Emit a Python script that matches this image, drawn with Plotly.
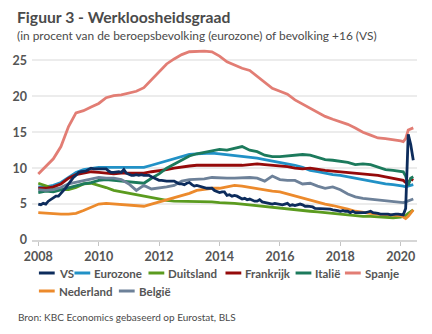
import pandas as pd
import plotly.graph_objects as go

# ---------------- data ----------------
us_dates = pd.date_range("2008-01-01", "2020-06-01", freq="MS")
vs = [5.0, 4.9, 5.1, 5.0, 5.4, 5.6, 5.8, 6.1, 6.1, 6.5, 6.8, 7.3,
      7.8, 8.3, 8.7, 9.0, 9.4, 9.5, 9.5, 9.6, 9.8, 10.0, 9.9, 9.9,
      9.8, 9.8, 9.9, 9.9, 9.6, 9.4, 9.4, 9.5, 9.5, 9.4, 9.8, 9.3,
      9.1, 9.0, 9.0, 9.1, 9.0, 9.1, 9.0, 9.0, 9.0, 8.8, 8.6, 8.5,
      8.3, 8.3, 8.2, 8.2, 8.2, 8.2, 8.2, 8.0, 7.8, 7.8, 7.7, 7.9,
      8.0, 7.7, 7.5, 7.6, 7.5, 7.5, 7.3, 7.2, 7.2, 7.2, 6.9, 6.7,
      6.6, 6.7, 6.7, 6.2, 6.3, 6.1, 6.2, 6.1, 5.9, 5.7, 5.8, 5.6,
      5.7, 5.5, 5.4, 5.4, 5.6, 5.3, 5.2, 5.1, 5.0, 5.0, 5.1, 5.0,
      4.9, 4.9, 5.0, 5.1, 4.8, 4.9, 4.8, 4.9, 5.0, 4.9, 4.7, 4.7,
      4.7, 4.6, 4.4, 4.4, 4.4, 4.3, 4.3, 4.4, 4.3, 4.2, 4.2, 4.1,
      4.0, 4.1, 4.0, 4.0, 3.8, 4.0, 3.8, 3.8, 3.7, 3.8, 3.8, 3.9,
      4.0, 3.8, 3.8, 3.7, 3.6, 3.6, 3.7, 3.6, 3.5, 3.6, 3.6, 3.6,
      3.5, 3.5, 4.4, 14.7, 13.3, 11.1]

# European series: quarterly (Jan/Apr/Jul/Oct) 2008-2019, monthly Jan-Jun 2020
eu_dates = ([f"{y}-{m:02d}-01" for y in range(2008, 2020) for m in (1, 4, 7, 10)]
            + [f"2020-{m:02d}-01" for m in range(1, 7)])

eurozone = [7.4, 7.4, 7.6, 8.0, 8.7, 9.4, 9.8, 10.0, 10.1, 10.1, 10.1, 10.0,
            10.0, 10.0, 10.1, 10.4, 10.7, 11.0, 11.3, 11.6, 11.9, 12.0, 12.1, 12.1,
            12.0, 11.9, 11.8, 11.7, 11.6, 11.4, 11.2, 11.0, 10.8, 10.6, 10.4, 10.1,
            9.7, 9.5, 9.3, 9.1, 9.0, 8.8, 8.6, 8.4, 8.2, 8.0, 7.8, 7.7,
            7.6, 7.5, 7.4, 7.5, 7.6, 7.7]
duitsland = [7.9, 7.5, 7.2, 7.0, 7.0, 7.3, 7.8, 7.9, 7.6, 7.3, 6.9, 6.7,
             6.5, 6.2, 6.0, 5.8, 5.6, 5.5, 5.4, 5.4, 5.4, 5.3, 5.3, 5.3,
             5.2, 5.1, 5.1, 5.0, 4.9, 4.8, 4.7, 4.6, 4.5, 4.4, 4.2, 4.1,
             4.0, 3.9, 3.8, 3.6, 3.6, 3.5, 3.4, 3.3, 3.3, 3.2, 3.1, 3.1,
             3.2, 3.3, 3.4, 3.7, 3.9, 4.2]
frankrijk = [7.2, 7.2, 7.4, 7.8, 8.6, 9.1, 9.3, 9.5, 9.4, 9.3, 9.2, 9.3,
             9.3, 9.2, 9.3, 9.5, 9.6, 9.8, 10.0, 10.2, 10.3, 10.4, 10.4, 10.3,
             10.3, 10.3, 10.4, 10.4, 10.5, 10.6, 10.5, 10.4, 10.4, 10.2, 10.0, 9.9,
             10.0, 9.8, 9.7, 9.6, 9.5, 9.4, 9.3, 9.3, 9.2, 9.0, 8.8, 8.6,
             8.4, 8.3, 8.0, 7.9, 8.5, 8.3]
italie = [6.6, 6.8, 6.7, 7.0, 7.3, 7.5, 7.8, 8.0, 8.3, 8.4, 8.3, 8.2,
          8.1, 8.0, 7.9, 8.6, 9.2, 10.0, 10.6, 11.1, 11.7, 12.0, 12.2, 12.5,
          12.6, 12.5, 12.7, 13.0, 12.5, 12.3, 11.8, 11.6, 11.6, 11.7, 11.8, 11.9,
          11.8, 11.5, 11.2, 11.1, 11.0, 10.8, 10.5, 10.6, 10.5, 10.1, 9.8, 9.7,
          9.6, 9.5, 8.9, 7.6, 8.6, 8.8]
spanje = [9.2, 10.2, 11.3, 13.0, 15.8, 17.7, 18.0, 18.5, 19.0, 19.8, 20.1, 20.2,
          20.4, 20.7, 21.2, 22.3, 23.3, 24.5, 25.2, 25.8, 26.2, 26.3, 26.3, 26.2,
          25.6, 24.8, 24.3, 23.9, 23.6, 22.8, 21.9, 21.1, 20.7, 20.3, 19.5, 18.9,
          18.3, 17.7, 17.2, 16.8, 16.5, 16.1, 15.6, 15.0, 14.6, 14.2, 14.1, 14.0,
          13.8, 13.7, 14.1, 15.3, 15.5, 15.6]
nederland = [3.8, 3.7, 3.7, 3.6, 3.6, 3.7, 4.1, 4.6, 5.0, 5.1, 5.0, 5.0,
             4.9, 4.8, 4.7, 5.0, 5.3, 5.6, 6.0, 6.2, 6.5, 6.9, 7.1, 7.2,
             7.2, 7.4, 7.6, 7.5, 7.3, 7.1, 6.9, 6.8, 6.7, 6.4, 6.1, 5.9,
             5.6, 5.3, 5.0, 4.8, 4.6, 4.3, 4.0, 3.8, 3.7, 3.6, 3.5, 3.5,
             3.4, 3.2, 3.0, 3.3, 3.8, 4.2]
belgie = [7.0, 6.9, 7.0, 7.3, 7.8, 8.0, 8.2, 8.5, 8.7, 8.6, 8.6, 8.4,
          7.8, 6.9, 7.6, 7.1, 7.2, 7.4, 7.6, 8.2, 8.4, 8.4, 8.5, 8.7,
          8.6, 8.6, 8.6, 8.7, 8.7, 8.6, 8.2, 8.9, 8.4, 8.3, 8.3, 7.8,
          7.9, 7.5, 7.2, 7.4, 7.0, 6.4, 6.0, 5.8, 5.7, 5.6, 5.5, 5.4,
          5.3, 5.2, 5.3, 5.4, 5.6, 5.7]

year_ticks = [2008, 2010, 2012, 2014, 2016, 2018, 2020]
y_ticks = [0, 5, 10, 15, 20, 25]

series = [  # name, dates, values, colour
    ("VS", us_dates, vs, "#0d2c5c"),
    ("Eurozone", eu_dates, eurozone, "#2191c6"),
    ("Duitsland", eu_dates, duitsland, "#5b9b1f"),
    ("Frankrijk", eu_dates, frankrijk, "#950a0a"),
    ("Italië", eu_dates, italie, "#1c7a5c"),
    ("Spanje", eu_dates, spanje, "#e27d74"),
    ("Nederland", eu_dates, nederland, "#ec8a2c"),
    ("België", eu_dates, belgie, "#6d8199"),
]

FONT = "Lato"
TXT = "#4a4a4a"

fig = go.Figure()
# draw European series first, VS last (on top)
for name, d, v, c in series[1:] + series[:1]:
    fig.add_trace(go.Scatter(x=d, y=v, mode="lines", name=name,
                             line=dict(color=c, width=2.8), showlegend=False))

# ---------------- layout ----------------
W, H = 432, 334
ml, mr, mt, mb = 27, 15, 46, 94
pw, ph = W - ml - mr, H - mt - mb

def px(xp):
    return (xp - ml) / pw

def py(yp):
    return (H - mb - yp) / ph

fig.update_layout(
    width=W, height=H,
    margin=dict(l=ml, r=mr, t=mt, b=mb),
    paper_bgcolor="white", plot_bgcolor="white",
    font=dict(family=FONT, color=TXT),
    xaxis=dict(type="date", range=["2007-10-17", "2020-07-16"],
               tickvals=[f"{y}-01-01" for y in year_ticks],
               ticktext=[f"<b>{y}</b>" for y in year_ticks],
               tickfont=dict(size=12.5, family=FONT, color="#555555"),
               showgrid=False, showline=True, linecolor="#d6d6d6", linewidth=1.5,
               ticks="outside", ticklen=4, tickcolor="#c4c4c4", tickwidth=1.2,
               zeroline=False),
    yaxis=dict(range=[0, 27], tickvals=y_ticks,
               ticktext=[f"<b>{v}</b>" for v in y_ticks],
               tickfont=dict(size=12.5, family=FONT, color="#555555"),
               showgrid=True, gridcolor="#ececec", gridwidth=1.6,
               zeroline=False, showline=False, ticklabelstandoff=4),
)

ann = [
    dict(text="<b>Figuur 3 - Werkloosheidsgraad</b>", x=10, y=17, size=15.7, color="#4a4a4a"),
    dict(text="(in procent van de beroepsbevolking (eurozone) of bevolking +16 (VS)", x=10, y=35, size=11.9, color="#4a4a4a"),
    dict(text="Bron: KBC Economics gebaseerd op Eurostat, BLS", x=11, y=317, size=10, color="#4a4a4a"),
]
for a in ann:
    fig.add_annotation(text=a["text"], x=px(a["x"]), y=py(a["y"]), xref="paper", yref="paper",
                       xanchor="left", yanchor="middle", showarrow=False,
                       font=dict(size=a["size"], color=a["color"], family=FONT))

# manual legend
legend_pos = {"VS": (34, 273), "Eurozone": (70, 273), "Duitsland": (145, 273),
              "Frankrijk": (223, 273), "Italië": (294, 273), "Spanje": (344, 273),
              "Nederland": (34, 291), "België": (115, 291)}
for name, d, v, c in series:
    lx, ly = legend_pos[name]
    fig.add_shape(type="line", xref="paper", yref="paper",
                  x0=px(lx), x1=px(lx + 16), y0=py(ly), y1=py(ly),
                  line=dict(color=c, width=3))
    fig.add_annotation(text=f"<b>{name}</b>", x=px(lx + 18), y=py(ly), xref="paper", yref="paper",
                       xanchor="left", yanchor="middle", showarrow=False,
                       font=dict(size=11.5, color="#555555", family=FONT))

fig.write_html("out.html")
